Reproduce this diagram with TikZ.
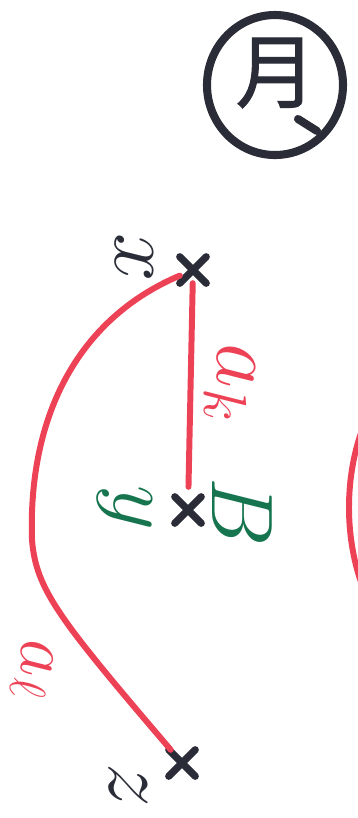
\documentclass[tikz,border=0pt]{standalone}
\usepackage{fontspec}
\usepackage{tikz}
\usetikzlibrary{shapes.geometric,shapes.misc}
\newfontfamily\cjkfont[FakeBold=1.2]{Noto Sans CJK JP}
\definecolor{inkred}{RGB}{237,66,86}
\definecolor{inkgreen}{RGB}{22,116,78}
\definecolor{inkdark}{RGB}{42,45,55}
\tikzset{
  ptcross/.style={
    cross out,
    draw=inkdark,
    line width=2.1pt,
    line cap=round,
    minimum size=1.9mm,
    inner sep=0pt
  },
  redpen/.style={draw=inkred, line width=1.7pt, line cap=round},
  darkpen/.style={draw=inkdark, line width=2.3pt, line cap=round},
  letter/.style={rotate=-90, inner sep=0pt, font=\fontsize{25}{25}\selectfont},
  darkletter/.style={letter, text=inkdark},
  greenletter/.style={letter, text=inkgreen},
  redletter/.style={letter, text=inkred}
}

\begin{document}
\begin{tikzpicture}[x=0.1mm, y=-0.1mm]
  \useasboundingbox (0,0) rectangle (358,818);
  \clip (0,0) rectangle (358,818);

  % Circled mark
  \node[ellipse, draw=inkdark, line width=2.3pt, minimum width=13.6mm, minimum height=14mm] (badge) at (275,85) {};
  \node[text=inkdark, inner sep=0pt, font=\cjkfont\fontsize{23}{23}\selectfont] (month) at (276,73) {月};
  \draw[darkpen] (298,119) -- (317,131);

  % Points
  \node[ptcross] (x) at (193,270) {};
  \node[ptcross] (y) at (188,510) {};
  \node[ptcross] (z) at (182,763) {};

  % Labels
  \node[darkletter] (xlab) at (134,258) {$x$};
  \node[greenletter] (ylab) at (125,508) {$y$};
  \node[greenletter] (blab) at (242,512) {$B$};
  \node[darkletter] (zlab) at (128,785) {$z$};
  \node[redletter, font=\fontsize{23}{23}\selectfont] (aklab) at (230,383) {$a_k$};
  \node[redletter, font=\fontsize{22}{22}\selectfont] (allab) at (32,670) {$a_\ell$};

  % Arcs
  \coordinate (bend) at (32,540);
  \draw[redpen, shorten >=1mm] (x) -- (y);
  \draw[redpen] (x) .. controls (75,320) and (28,420) .. (bend)
    .. controls (36,590) and (60,620) .. (z);
  \draw[redpen] (364,425) .. controls (344,475) and (344,540) .. (364,590);
\end{tikzpicture}
\end{document}
